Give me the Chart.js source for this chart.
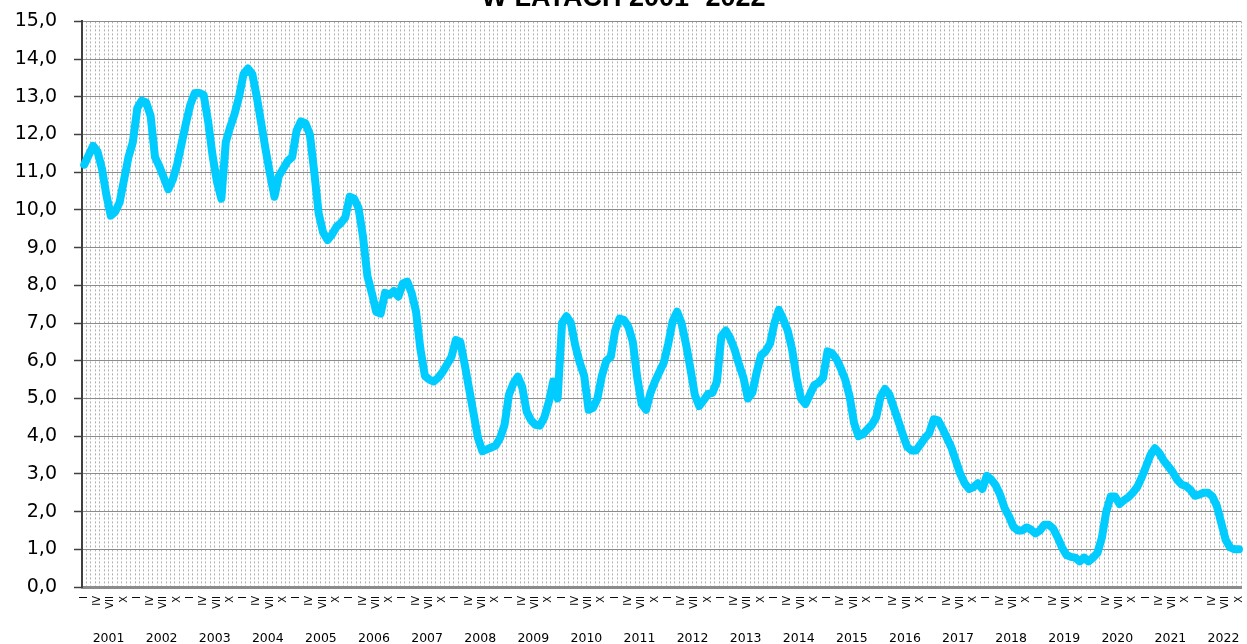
<!DOCTYPE html>
<html>
<head>
<meta charset="utf-8">
<script src="https://cdn.jsdelivr.net/npm/chart.js"></script>
<style>
  html, body { margin: 0; padding: 0; background: #fff; overflow: hidden; width: 1247px; height: 644px; }
  #chart { display: block; margin-top: -30px; }
</style>
</head>
<body>
<canvas id="chart" width="1260" height="674"></canvas>
<script>
// miesiace (rzymskie) - etykiety kategorii
const monthNames = ['I', 'II', 'III', 'IV', 'V', 'VI', 'VII', 'VIII', 'IX', 'X', 'XI', 'XII']
const years = ['2001', '2002', '2003', '2004', '2005', '2006', '2007', '2008', '2009', '2010', '2011',
    '2012', '2013', '2014', '2015', '2016', '2017', '2018', '2019', '2020', '2021', '2022']

// stopa bezrobocia [%], miesiecznie, od I 2001 do X 2022
const rate2001 = [11.2, 11.45, 11.7, 11.55, 11.1, 10.4, 9.85, 9.95, 10.2, 10.8, 11.4, 11.8]
const rate2002 = [12.7, 12.9, 12.85, 12.5, 11.4, 11.15, 10.85, 10.55, 10.8, 11.2, 11.75, 12.3]
const rate2003 = [12.8, 13.1, 13.1, 13.05, 12.35, 11.45, 10.75, 10.3, 11.8, 12.2, 12.55, 13.0]
const rate2004 = [13.6, 13.75, 13.6, 13.0, 12.3, 11.6, 10.95, 10.35, 10.9, 11.1, 11.3, 11.4]
const rate2005 = [12.1, 12.35, 12.3, 12.0, 11.0, 9.9, 9.4, 9.2, 9.35, 9.55, 9.65, 9.8]
const rate2006 = [10.35, 10.3, 10.05, 9.3, 8.25, 7.8, 7.3, 7.25, 7.8, 7.75, 7.85, 7.7]
const rate2007 = [8.05, 8.1, 7.8, 7.3, 6.3, 5.6, 5.5, 5.45, 5.55, 5.7, 5.9, 6.1]
const rate2008 = [6.55, 6.5, 5.9, 5.25, 4.6, 3.95, 3.6, 3.65, 3.7, 3.75, 3.95, 4.3]
const rate2009 = [5.1, 5.4, 5.58, 5.3, 4.65, 4.42, 4.3, 4.28, 4.5, 4.9, 5.45, 5.0]
const rate2010 = [7.0, 7.18, 7.0, 6.4, 5.95, 5.6, 4.7, 4.75, 5.0, 5.6, 6.0, 6.1]
const rate2011 = [6.8, 7.12, 7.08, 6.9, 6.5, 5.55, 4.85, 4.7, 5.15, 5.45, 5.7, 5.95]
const rate2012 = [6.45, 7.05, 7.3, 7.0, 6.45, 5.8, 5.1, 4.8, 4.95, 5.12, 5.15, 5.45]
const rate2013 = [6.65, 6.8, 6.6, 6.3, 5.9, 5.55, 5.0, 5.15, 5.7, 6.15, 6.25, 6.45]
const rate2014 = [7.0, 7.35, 7.1, 6.8, 6.3, 5.55, 5.0, 4.85, 5.1, 5.35, 5.42, 5.55]
const rate2015 = [6.25, 6.2, 6.05, 5.8, 5.5, 5.05, 4.35, 4.0, 4.05, 4.18, 4.3, 4.5]
const rate2016 = [5.05, 5.25, 5.1, 4.75, 4.4, 4.05, 3.72, 3.62, 3.62, 3.78, 3.95, 4.08]
const rate2017 = [4.45, 4.42, 4.2, 3.95, 3.7, 3.35, 3.0, 2.75, 2.6, 2.65, 2.75, 2.6]
const rate2018 = [2.95, 2.85, 2.7, 2.45, 2.1, 1.88, 1.6, 1.5, 1.5, 1.58, 1.52, 1.42]
const rate2019 = [1.5, 1.65, 1.65, 1.55, 1.32, 1.05, 0.85, 0.8, 0.78, 0.68, 0.78, 0.68]
const rate2020 = [0.78, 0.9, 1.3, 2.0, 2.4, 2.4, 2.2, 2.3, 2.38, 2.5, 2.65, 2.9]
const rate2021 = [3.2, 3.5, 3.68, 3.55, 3.35, 3.2, 3.05, 2.85, 2.72, 2.68, 2.58, 2.42]
const rate2022 = [2.45, 2.5, 2.5, 2.4, 2.15, 1.7, 1.25, 1.05, 1.0, 1.0]

// polozenie podpisow lat (srodek roku, w miesiacach od I 2001)
const yearTickPositions = [6, 18, 30, 42, 54, 66, 78, 90, 102, 114, 126, 138, 150, 162, 174, 186, 198, 210, 222, 234, 246, 258]

const rates = [].concat(rate2001, rate2002, rate2003, rate2004, rate2005, rate2006, rate2007, rate2008,
    rate2009, rate2010, rate2011, rate2012, rate2013, rate2014, rate2015, rate2016, rate2017, rate2018,
    rate2019, rate2020, rate2021, rate2022)
const categories = rates.map((v, i) => monthNames[i % 12])

const ctx = document.getElementById('chart').getContext('2d')

new Chart(ctx, {
    type: 'line',
    data: {
        labels: categories,
        datasets: [{
            data: rates,
            borderColor: '#00CCFF',
            borderWidth: 8,
            borderJoinStyle: 'round',
            borderCapStyle: 'round',
            pointRadius: 0,
            tension: 0,
            fill: false
        }]
    },
    options: {
        responsive: false,
        animation: false,
        layout: { padding: { left: 0, right: 13, top: 0, bottom: 0 } },
        plugins: {
            legend: { display: false },
            tooltip: { enabled: false },
            title: {
                display: true,
                text: 'W LATACH 2001- 2022',
                color: '#000',
                font: { family: 'Liberation Sans', size: 27, weight: 'bold' },
                padding: { top: 12, bottom: 7 }
            }
        },
        scales: {
            x: {
                type: 'category',
                offset: true,
                weight: 0,
                grid: {
                    offset: true,
                    color: '#b0b0b0',
                    lineWidth: 1,
                    drawTicks: false
                },
                border: { display: true, color: '#8c8c8c', width: 3, dash: [2, 2] },
                ticks: {
                    autoSkip: false,
                    minRotation: 90,
                    maxRotation: 90,
                    padding: 9,
                    color: '#000',
                    font: { family: 'DejaVu Sans', size: 10 },
                    callback: function (value, index) {
                        return index % 3 === 0 ? this.getLabelForValue(value) : ''
                    }
                },
                afterFit: function (scale) { scale.height = 30 }
            },
            x2: {
                type: 'linear',
                position: 'bottom',
                weight: 1,
                min: 0,
                max: rates.length,
                grid: { display: false },
                border: { display: false },
                ticks: {
                    autoSkip: false,
                    maxRotation: 0,
                    padding: 6,
                    color: '#000',
                    font: { family: 'DejaVu Sans', size: 12.5 },
                    callback: function (value, index) { return years[index] }
                },
                afterBuildTicks: function (axis) {
                    axis.ticks = yearTickPositions.map(v => ({ value: v }))
                },
                afterFit: function (scale) { scale.height = 27 }
            },
            y: {
                min: 0,
                max: 15,
                grid: {
                    color: '#8c8c8c',
                    lineWidth: 1,
                    tickLength: 8,
                    tickColor: '#404040',
                    tickWidth: 1.5
                },
                border: { display: true, color: '#404040', width: 2 },
                ticks: {
                    stepSize: 1,
                    padding: 17,
                    color: '#000',
                    font: { family: 'DejaVu Sans', size: 19 },
                    callback: function (value) {
                        return value.toFixed(1).replace('.', ',')
                    }
                },
                afterFit: function (scale) { scale.width = 82 }
            }
        }
    }
})
</script>
</body>
</html>
